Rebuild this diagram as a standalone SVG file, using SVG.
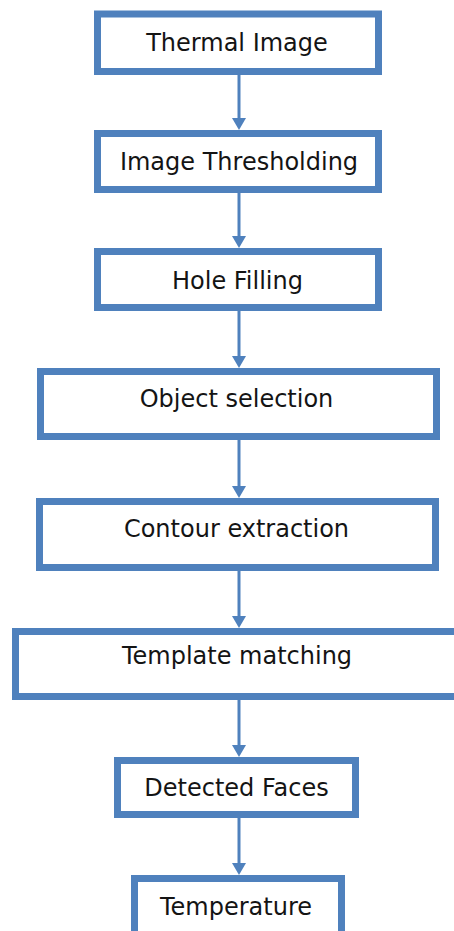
<svg xmlns="http://www.w3.org/2000/svg" width="454" height="931" viewBox="0 0 454 931">
  <style>
    .box { fill: #ffffff; stroke: #4F81BD; stroke-width: 7; }
    .lbl { font-family: "DejaVu Sans", "Liberation Sans", sans-serif; font-size: 24px; fill: #141414; text-anchor: middle; }
    .conn { stroke: #4F81BD; stroke-width: 3; fill: none; marker-end: url(#arr); }
  </style>
  <defs>
    <marker id="arr" markerUnits="userSpaceOnUse" markerWidth="12" markerHeight="14" viewBox="0 0 12 14" refX="6" refY="7" orient="auto">
      <path d="M0,0 L12,7 L0,14 z" fill="#4F81BD"/>
    </marker>
  </defs>
  <rect width="454" height="931" fill="#ffffff"/>
  <g id="connectors">
    <line class="conn" x1="239" y1="75" x2="239" y2="124"/>
    <line class="conn" x1="239" y1="193" x2="239" y2="242"/>
    <line class="conn" x1="239" y1="311" x2="239" y2="362"/>
    <line class="conn" x1="239" y1="440" x2="239" y2="492"/>
    <line class="conn" x1="239" y1="571" x2="239" y2="622"/>
    <line class="conn" x1="239" y1="700" x2="239" y2="751"/>
    <line class="conn" x1="239" y1="818" x2="239" y2="869"/>
  </g>
  <g id="thermal-image">
    <rect class="box" x="97.5" y="14" width="281" height="57.5"/>
    <text class="lbl" x="237" y="51">Thermal Image</text>
  </g>
  <g id="image-thresholding">
    <rect class="box" x="97.5" y="133.5" width="281" height="56"/>
    <text class="lbl" x="239" y="170">Image Thresholding</text>
  </g>
  <g id="hole-filling">
    <rect class="box" x="97.5" y="251.5" width="281" height="56"/>
    <text class="lbl" x="237.5" y="289">Hole Filling</text>
  </g>
  <g id="object-selection">
    <rect class="box" x="40.5" y="371.5" width="396" height="65"/>
    <text class="lbl" x="236.5" y="407">Object selection</text>
  </g>
  <g id="contour-extraction">
    <rect class="box" x="39.5" y="501.5" width="396" height="66"/>
    <text class="lbl" x="236.5" y="537">Contour extraction</text>
  </g>
  <g id="template-matching">
    <rect class="box" x="15.5" y="631.5" width="450" height="65"/>
    <text class="lbl" x="237" y="664">Template matching</text>
  </g>
  <g id="detected-faces">
    <rect class="box" x="117.5" y="760.5" width="238" height="54"/>
    <text class="lbl" x="236.5" y="796">Detected Faces</text>
  </g>
  <g id="temperature">
    <rect class="box" x="134.5" y="878.5" width="207" height="70"/>
    <text class="lbl" x="236" y="915">Temperature</text>
  </g>
</svg>
